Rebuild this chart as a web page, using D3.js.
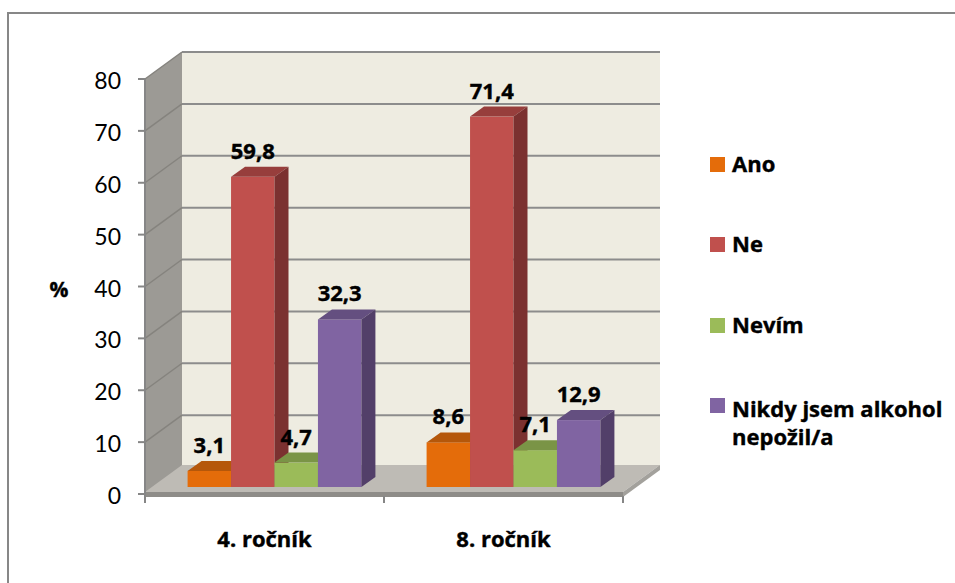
<!DOCTYPE html>
<html>
<head>
<meta charset="utf-8">
<script src="https://cdn.jsdelivr.net/npm/d3@7"></script>
<style>
  html, body { margin: 0; padding: 0; background: #fff; }
  svg { display: block; font-family: "Lato", "Liberation Sans", sans-serif; }
  .bold { font-family: "Open Sans", "Lato", sans-serif; font-weight: bold;
          stroke: #000; stroke-width: 0.4px; }
</style>
</head>
<body>
<svg id="chart" width="955" height="583"></svg>
<script>
// Data
const categories = ["4. ročník", "8. ročník"];
const seriesNames = ["Ano", "Ne", "Nevím", "Nikdy jsem alkohol nepožil/a"];
const valuesAno   = [3.1, 8.6];
const valuesNe    = [59.8, 71.4];
const valuesNevim = [4.7, 7.1];
const valuesNikdy = [32.3, 12.9];
const yTicks = [0, 10, 20, 30, 40, 50, 60, 70, 80];

// Faces: front, top, side
const seriesColors = [
  { front: "#E46C0A", top: "#B5570A", side: "#9C4B08" },
  { front: "#C0504D", top: "#973E3C", side: "#7B3130" },
  { front: "#9BBB59", top: "#7A9446", side: "#647A39" },
  { front: "#8064A2", top: "#644F80", side: "#523F69" }
];

const seriesValues = [valuesAno, valuesNe, valuesNevim, valuesNikdy];

const svg = d3.select("#chart");

// Chart area frame
svg.append("rect")
  .attr("x", 8).attr("y", 13)
  .attr("width", 1000).attr("height", 1000)
  .attr("fill", "#fff")
  .attr("stroke", "#878787").attr("stroke-width", 2);

// 3D geometry
const x0 = 145, x1 = 623;            // front plane extent
const depth = { dx: 37, dy: -27 };   // wall depth offset
const barOff = { dx: 10, dy: -7 };   // bar front plane offset
const barDepth = { dx: 14, dy: -10 };

const y = d3.scaleLinear().domain([0, 80]).range([494, 79]);

const xCat = d3.scaleBand().domain(categories).range([x0, x1]);
// gap width 150% of bar width
const barW = xCat.bandwidth() / (seriesNames.length + 1.5);
const xSer = d3.scaleBand().domain(d3.range(seriesNames.length))
  .range([0.75 * barW, xCat.bandwidth() - 0.75 * barW]);

const poly = pts => pts.map(p => p.join(",")).join(" ");

// Left side wall
svg.append("polygon")
  .attr("points", poly([[x0, y(80)], [x0 + depth.dx, y(80) + depth.dy],
                        [x0 + depth.dx, y(0) + depth.dy], [x0, y(0)]]))
  .attr("fill", "#9C9A95");

// Back wall
svg.append("rect")
  .attr("x", x0 + depth.dx).attr("y", y(80) + depth.dy)
  .attr("width", x1 - x0).attr("height", y(0) - y(80))
  .attr("fill", "#EEECE1");

// Gridlines on back wall and side wall
const grid = svg.append("g");
yTicks.filter(v => v > 0).forEach(v => {
  grid.append("line")
    .attr("x1", x0 + depth.dx).attr("x2", x1 + depth.dx)
    .attr("y1", y(v) + depth.dy).attr("y2", y(v) + depth.dy)
    .attr("stroke", "#8C8C8C").attr("stroke-width", 2);
  grid.append("line")
    .attr("x1", x0).attr("x2", x0 + depth.dx)
    .attr("y1", y(v)).attr("y2", y(v) + depth.dy)
    .attr("stroke", "#85837E").attr("stroke-width", 1.5);
});

// Floor slab
const fy = y(0) - 2;
svg.append("polygon")
  .attr("points", poly([[x0, fy], [x1, fy], [x1 + depth.dx, fy + depth.dy], [x0 + depth.dx, fy + depth.dy]]))
  .attr("fill", "#BEBBB5");
svg.append("polygon")
  .attr("points", poly([[x0, fy], [x1, fy], [x1, fy + 5], [x0, fy + 5]]))
  .attr("fill", "#8E8C88");
svg.append("polygon")
  .attr("points", poly([[x1, fy], [x1 + depth.dx, fy + depth.dy], [x1 + depth.dx, fy + depth.dy + 5], [x1, fy + 5]]))
  .attr("fill", "#A3A19C");

// Value axis
svg.append("line")
  .attr("x1", x0).attr("x2", x0).attr("y1", y(80)).attr("y2", y(0) + 3)
  .attr("stroke", "#868686").attr("stroke-width", 2);
const yAxis = svg.append("g");
yTicks.forEach(v => {
  yAxis.append("line")
    .attr("x1", x0 - 7).attr("x2", x0).attr("y1", y(v)).attr("y2", y(v))
    .attr("stroke", "#868686").attr("stroke-width", 2);
  yAxis.append("text")
    .attr("x", 121).attr("y", y(v) + 10)
    .attr("text-anchor", "end")
    .attr("font-size", 23).attr("fill", "#000")
    .text(v);
});
svg.append("text")
  .attr("class", "bold")
  .attr("x", 59).attr("y", y(40) + 10)
  .attr("text-anchor", "middle")
  .attr("font-size", 21)
  .text("%");

// Category axis ticks and labels
[x0, x0 + xCat.bandwidth(), x1].forEach(tx => {
  svg.append("line")
    .attr("x1", tx).attr("x2", tx).attr("y1", y(0) + 2).attr("y2", y(0) + 9)
    .attr("stroke", "#868686").attr("stroke-width", 2);
});
categories.forEach(c => {
  svg.append("text")
    .attr("class", "bold")
    .attr("x", xCat(c) + xCat.bandwidth() / 2).attr("y", 547)
    .attr("text-anchor", "middle")
    .attr("font-size", 22)
    .text(c);
});

// Bars
const bars = svg.append("g");
const labels = svg.append("g");
categories.forEach((c, ci) => {
  seriesValues.forEach((vals, si) => {
    const v = vals[ci];
    const bx = xCat(c) + xSer(si) + barOff.dx;
    const w = xSer.bandwidth();
    const yb = y(0) + barOff.dy;
    const yt = y(v) + barOff.dy;
    const col = seriesColors[si];
    bars.append("rect")
      .attr("x", bx).attr("y", yt).attr("width", w).attr("height", yb - yt)
      .attr("fill", col.front);
    bars.append("polygon")
      .attr("points", poly([[bx, yt], [bx + barDepth.dx, yt + barDepth.dy],
                            [bx + w + barDepth.dx, yt + barDepth.dy], [bx + w, yt]]))
      .attr("fill", col.top);
    bars.append("polygon")
      .attr("points", poly([[bx + w, yt], [bx + w + barDepth.dx, yt + barDepth.dy],
                            [bx + w + barDepth.dx, yb + barDepth.dy], [bx + w, yb]]))
      .attr("fill", col.side);
    labels.append("text")
      .attr("class", "bold")
      .attr("x", bx + w / 2).attr("y", yt - 18)
      .attr("text-anchor", "middle")
      .attr("font-size", 22)
      .text(String(v).replace(".", ","));
  });
});

// Legend
const legend = svg.append("g");
const legendY = [157, 237, 318, 398];
seriesNames.forEach((name, i) => {
  legend.append("rect")
    .attr("x", 710).attr("y", legendY[i]).attr("width", 15).attr("height", 15)
    .attr("fill", seriesColors[i].front);
  const lines = i === 3 ? ["Nikdy jsem alkohol", "nepožil/a"] : [name];
  const t = legend.append("text")
    .attr("class", "bold")
    .attr("x", 732).attr("y", legendY[i] + 15 + (i === 3 ? 4 : 0))
    .attr("font-size", 22);
  lines.forEach((ln, li) => {
    t.append("tspan").attr("x", 732).attr("dy", li === 0 ? 0 : 28).text(ln);
  });
});
</script>
</body>
</html>
